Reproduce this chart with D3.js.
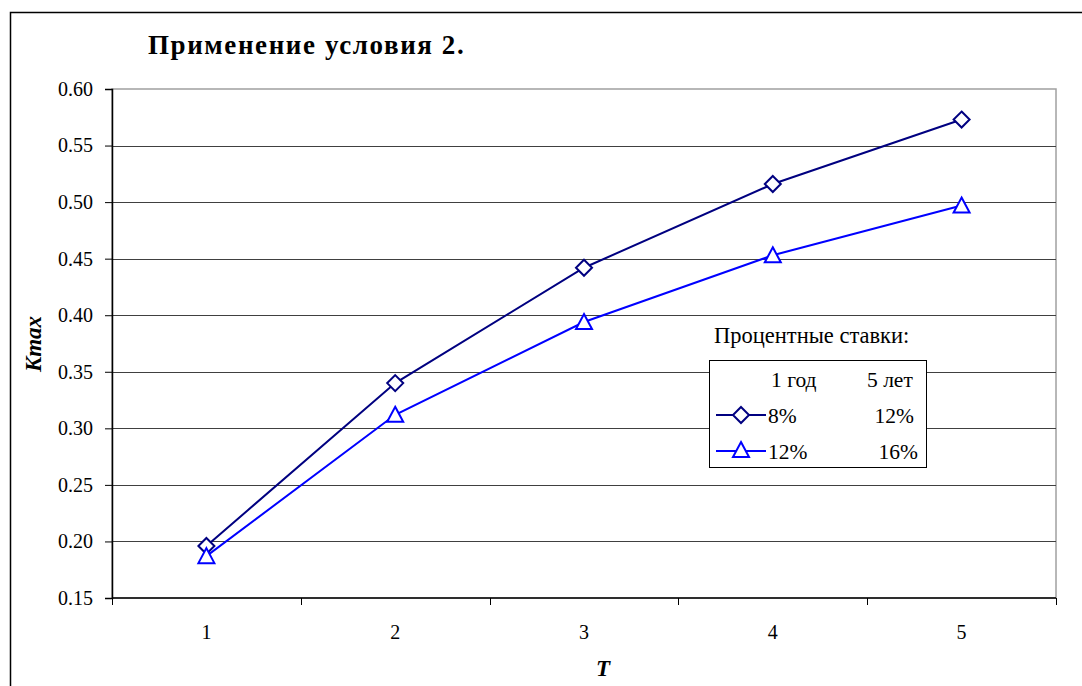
<!DOCTYPE html>
<html><head><meta charset="utf-8">
<script src="https://cdn.jsdelivr.net/npm/d3@7"></script>
</head>
<body style="margin:0;padding:0;background:#fff">
<script>
const categories = [1, 2, 3, 4, 5];
const series1 = [0.196, 0.340, 0.442, 0.516, 0.573];
const series2 = [0.187, 0.312, 0.394, 0.453, 0.497];
const yTicks = [0.15, 0.20, 0.25, 0.30, 0.35, 0.40, 0.45, 0.50, 0.55, 0.60];
const titleText = "Применение условия 2.";
const yLabel = "Kmax";
const xLabel = "T";
const legendTitle = "Процентные ставки:";
const legendHeader = ["1 год", "5 лет"];
const legendRows = [["8%", "12%"], ["12%", "16%"]];

const FF = "'Liberation Serif', 'Times New Roman', serif";
const W = 1082, H = 686;
const svg = d3.select("body").append("svg").attr("width", W).attr("height", H)
  .style("display", "block").style("font-family", FF);

function txt(sel, size) {
  return sel.append("text").style("font-family", FF).style("font-size", size + "px").attr("fill", "#000");
}

// outer chart border (extends beyond view on right/bottom)
svg.append("rect").attr("x", 10.5).attr("y", 12.5).attr("width", W + 20).attr("height", H + 20)
  .attr("fill", "#fff").attr("stroke", "#000").attr("stroke-width", 1.5);

const L = 112, R = 1056, T = 89, B = 598;
const x = d3.scaleBand().domain(categories).range([L, R]);
const y = d3.scaleLinear().domain([0.15, 0.60]).range([B, T]);

// plot area
svg.append("rect").attr("x", L).attr("y", T).attr("width", R - L).attr("height", B - T)
  .attr("fill", "#fff").attr("stroke", "#a0a0a0").attr("stroke-width", 1.5);

// gridlines
svg.append("g").selectAll("line").data(yTicks.filter(d => d > 0.15 && d < 0.60)).join("line")
  .attr("x1", L).attr("x2", R)
  .attr("y1", d => Math.round(y(d)) + 0.5).attr("y2", d => Math.round(y(d)) + 0.5)
  .attr("stroke", "#404040").attr("stroke-width", 1);

// y axis
const yAxis = d3.axisLeft(y).tickValues(yTicks).tickFormat(d3.format(".2f")).tickSize(7).tickPadding(12);
const gy = svg.append("g").attr("transform", `translate(${L},0)`).call(yAxis);
gy.attr("font-family", null).attr("font-size", null);
gy.select(".domain").attr("stroke", "#000").attr("stroke-width", 1.5);
gy.selectAll(".tick line").attr("stroke", "#000");
gy.selectAll("text").style("font-size", "20px").style("font-family", FF).attr("fill", "#000");

// x axis: ticks at category boundaries
const gx = svg.append("g").attr("transform", `translate(0,${B})`);
gx.append("line").attr("x1", L).attr("x2", R).attr("y1", 0).attr("y2", 0).attr("stroke", "#000").attr("stroke-width", 1.5);
const bounds = categories.map(c => x(c)).concat([x(categories[categories.length - 1]) + x.bandwidth()]);
gx.selectAll("line.tk").data(bounds).join("line").attr("class", "tk")
  .attr("x1", d => Math.round(d) + 0.5).attr("x2", d => Math.round(d) + 0.5).attr("y1", 0).attr("y2", 7).attr("stroke", "#000");
gx.selectAll("text.xl").data(categories).join("text").attr("class", "xl")
  .attr("x", d => x(d) + x.bandwidth() / 2).attr("y", 41).attr("text-anchor", "middle")
  .style("font-family", FF).style("font-size", "20px").text(d => d);

const cx = d => x(d) + x.bandwidth() / 2;

// lines
const line = d3.line().x((d, i) => cx(categories[i])).y(d => y(d));
svg.append("path").datum(series1).attr("d", line).attr("fill", "none").attr("stroke", "#000080").attr("stroke-width", 2);
svg.append("path").datum(series2).attr("d", line).attr("fill", "none").attr("stroke", "#0000ff").attr("stroke-width", 2);

function diamond(g, px, py) {
  g.append("path").attr("d", `M${px},${py - 8}L${px + 8},${py}L${px},${py + 8}L${px - 8},${py}Z`)
    .attr("fill", "#fff").attr("stroke", "#000080").attr("stroke-width", 2);
}
function triangle(g, px, py) {
  g.append("path").attr("d", `M${px},${py - 8}L${px + 8},${py + 7}L${px - 8},${py + 7}Z`)
    .attr("fill", "#fff").attr("stroke", "#0000ff").attr("stroke-width", 2);
}
const m1 = svg.append("g"), m2 = svg.append("g");
series1.forEach((v, i) => diamond(m1, cx(categories[i]), y(v)));
series2.forEach((v, i) => triangle(m2, cx(categories[i]), y(v)));

// title
txt(svg, 27).attr("x", 148).attr("y", 54).style("font-weight", "bold")
  .style("letter-spacing", "1.6px").text(titleText);

// axis labels
txt(svg, 23).attr("transform", "translate(41,344) rotate(-90)").attr("text-anchor", "middle")
  .style("font-weight", "bold").style("font-style", "italic").text(yLabel);
txt(svg, 23).attr("x", 603).attr("y", 676).attr("text-anchor", "middle")
  .style("font-weight", "bold").style("font-style", "italic").text(xLabel);

// legend
txt(svg, 22.5).attr("x", 714).attr("y", 343).text(legendTitle);
const lg = svg.append("g");
lg.append("rect").attr("x", 709.5).attr("y", 360.5).attr("width", 217).attr("height", 107)
  .attr("fill", "#fff").attr("stroke", "#000").attr("stroke-width", 1);
txt(lg, 21.5).attr("x", 771).attr("y", 387).text(legendHeader[0]);
txt(lg, 21.5).attr("x", 867).attr("y", 387).text(legendHeader[1]);
const rowY = [415, 451];
const colors = ["#000080", "#0000ff"];
legendRows.forEach((r, i) => {
  lg.append("line").attr("x1", 716).attr("x2", 766).attr("y1", rowY[i]).attr("y2", rowY[i])
    .attr("stroke", colors[i]).attr("stroke-width", 2);
  if (i === 0) diamond(lg, 741, rowY[i]); else triangle(lg, 741, rowY[i] - 1);
  txt(lg, 21.5).attr("x", 768).attr("y", rowY[i] + 8).text(r[0]);
  txt(lg, 21.5).attr("x", i === 0 ? 914 : 918).attr("y", rowY[i] + 8).attr("text-anchor", "end").text(r[1]);
});
</script>
</body></html>
